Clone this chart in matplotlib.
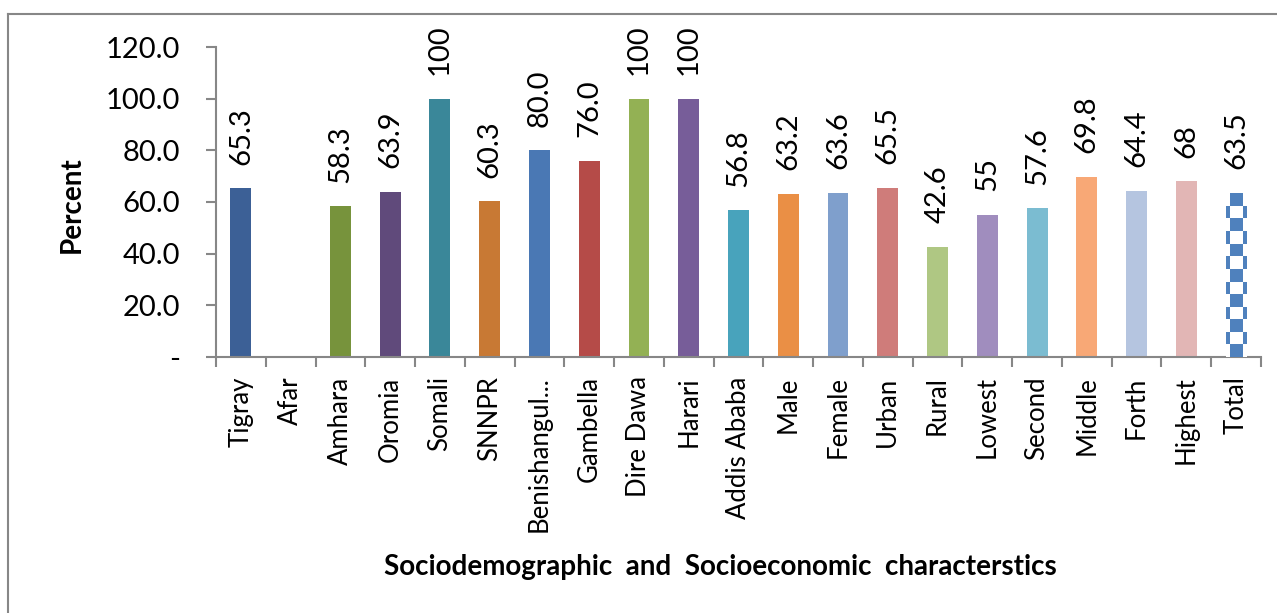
# Import libraries
import numpy as np
import matplotlib
matplotlib.use('Agg')
import matplotlib.pyplot as plt
from matplotlib.lines import Line2D
from matplotlib.colors import ListedColormap

# Data
categories = ['Tigray', 'Afar', 'Amhara', 'Oromia', 'Somali', 'SNNPR', 'Benishangul...',
              'Gambella', 'Dire Dawa', 'Harari', 'Addis Ababa', 'Male', 'Female', 'Urban',
              'Rural', 'Lowest', 'Second', 'Middle', 'Forth', 'Highest', 'Total']
values = [65.3, 0, 58.3, 63.9, 100, 60.3, 80.0, 76.0, 100, 100, 56.8, 63.2, 63.6, 65.5,
          42.6, 55, 57.6, 69.8, 64.4, 68, 63.5]
value_labels = ['65.3', '', '58.3', '63.9', '100', '60.3', '80.0', '76.0', '100', '100', '56.8',
                '63.2', '63.6', '65.5', '42.6', '55', '57.6', '69.8', '64.4', '68', '63.5']
colors = ['#3C6096', '#3C6096', '#77933C', '#604A7B', '#3A8799', '#C87934', '#4A78B4',
          '#B54B48', '#93B154', '#775D99', '#48A3BC', '#EA8F45', '#7F9FCC', '#CF7C7A',
          '#AFC783', '#A08DBE', '#7BBCD1', '#F8A876', '#B5C5E0', '#E2B6B5', 'white']
yticks = [0, 20, 40, 60, 80, 100, 120]
ytick_labels = ['-', '20.0', '40.0', '60.0', '80.0', '100.0', '120.0']

plt.rcParams['font.family'] = ['Lato', 'DejaVu Sans']
gray = '#878787'

fig = plt.figure(figsize=(12.77, 6.13), dpi=100)
ax = fig.add_axes([216/1277, 1 - 357/613, (1261-216)/1277, (357-47)/613])

x = np.arange(len(categories))
bars = ax.bar(x, values, width=0.42, color=colors, zorder=2)

# checkerboard fill for the Total bar
tb = bars[-1]
x0, w, h = tb.get_x(), tb.get_width(), tb.get_height()
xc = x0 + w / 2
cw, ch = 0.25, 4.85
xs = np.linspace(x0, x0 + w, 80)
ys = np.linspace(0, h, 400)
XX, YY = np.meshgrid(xs, ys)
checker = (np.floor((XX - xc + cw / 2) / cw) + np.floor(YY / ch)) % 2
im = ax.imshow(checker, extent=[x0, x0 + w, 0, h], origin='lower', aspect='auto',
               cmap=ListedColormap(['#4F81BD', 'white']), interpolation='nearest', zorder=3)
im.set_clip_path(tb)

# value labels
for b, lab in zip(bars, value_labels):
    ax.annotate(lab, (b.get_x() + b.get_width() / 2, b.get_height()),
                xytext=(0, 17), textcoords='offset points', rotation=90,
                ha='center', va='bottom', fontsize=21, color='black')

ax.set_xlim(-0.5, len(categories) - 0.5)
ax.set_ylim(0, 120)
ax.set_yticks(yticks)
ax.set_yticklabels(ytick_labels, fontsize=21)
ax.set_xticks(x)
ax.set_xticklabels(categories, rotation=90, fontsize=18.5, va='top', ha='center')
ax.set_xticks(np.arange(len(categories) + 1) - 0.5, minor=True)
ax.tick_params(axis='x', which='major', length=0, pad=14)
ax.tick_params(axis='x', which='minor', length=7, width=1.5, color=gray, direction='out')
ax.tick_params(axis='y', length=7, width=1.5, color=gray, pad=19)

for s in ['top', 'right']:
    ax.spines[s].set_visible(False)
for s in ['left', 'bottom']:
    ax.spines[s].set_color(gray)
    ax.spines[s].set_linewidth(1.5)

fig.text(72/1277, 1 - 205/613, 'Percent', rotation=90, fontsize=20, fontweight='bold',
         ha='center', va='center')
fig.text(720/1277, 1 - 567/613, 'Sociodemographic  and  Socioeconomic  characterstics',
         fontsize=20, fontweight='bold', ha='center', va='center')

# chart border (top and left visible)
fig.add_artist(Line2D([8/1277, 1], [1 - 14/613, 1 - 14/613], color=gray, lw=1.5,
                      transform=fig.transFigure))
fig.add_artist(Line2D([8/1277, 8/1277], [0, 1 - 14/613], color=gray, lw=1.5,
                      transform=fig.transFigure))

fig.savefig('out.png', dpi=100, facecolor='white')
